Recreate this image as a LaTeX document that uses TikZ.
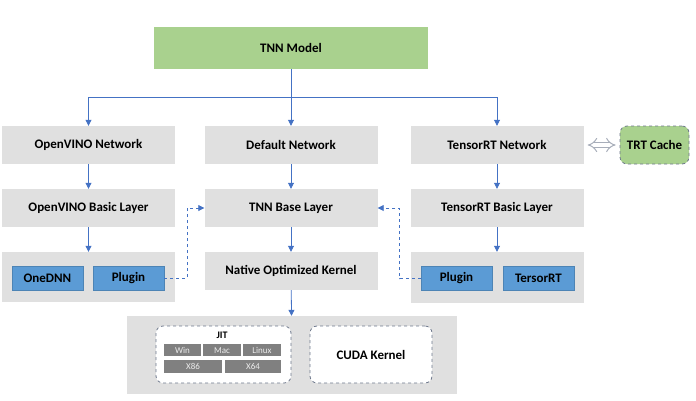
\documentclass[tikz,border=0pt]{standalone}
\usepackage{fontspec}
\setmainfont{Carlito}
\usetikzlibrary{positioning,arrows.meta}

\definecolor{boxgray}{RGB}{224,224,224}
\definecolor{modelgreen}{RGB}{169,209,142}
\definecolor{chipblue}{RGB}{91,155,213}
\definecolor{lineblue}{RGB}{68,114,196}
\definecolor{cellgray}{RGB}{128,128,128}
\definecolor{dashgray}{RGB}{110,120,140}

\begin{document}
\begin{tikzpicture}[x=1pt, y=1pt, font=\bfseries\fontsize{13}{15}\selectfont,
	block/.style = { rectangle, fill=boxgray, inner sep=0pt,
	minimum width=173pt, minimum height=38pt},
	chip/.style = { rectangle, fill=chipblue, draw=chipblue!85!black,
	inner sep=0pt, minimum width=71pt, minimum height=24pt},
	dashbox/.style = { rectangle, rounded corners=7pt, draw=dashgray,
	dashed, thick, fill=white, inner sep=0pt},
	cell/.style = { rectangle, fill=cellgray, text=white!85!gray, inner sep=0pt,
	text height=6.5pt, text depth=0.5pt,
	minimum height=12pt, font=\fontsize{9}{10}\selectfont},
	flow/.style = { draw=lineblue, thick, -{Triangle[length=6pt,width=6pt]}},
	dashflow/.style = { draw=lineblue, thick, dashed,
	-{Triangle[length=6pt,width=6pt]}} ]

  \useasboundingbox (0,0) rectangle (696,-400);

  % top level
  \node [name=model, block, fill=modelgreen, minimum width=274pt,
	minimum height=42pt] at (291,-48) { TNN Model };
  \coordinate (split) at (291,-97);

  % networks
  \node [name=ovnet, block] at (88.5,-145) { OpenVINO Network };
  \node [name=defnet, block] at (291,-145) { Default Network };
  \node [name=trtnet, block] at (497,-145) { TensorRT Network };
  \node [name=cache, dashbox, fill=modelgreen, minimum width=69pt,
	minimum height=38pt] at (654.5,-145) { TRT Cache };

  % layers
  \node [name=ovlayer, block] at (88.5,-208) { OpenVINO Basic Layer };
  \node [name=tnnbase, block] at (291,-208) { TNN Base Layer };
  \node [name=trtlayer, block] at (497,-208) { TensorRT Basic Layer };

  % implementations
  \node [name=ovimpl, block, minimum height=50pt] at (88.5,-277) {};
  \node [name=onednn, chip] at (47.5,-278) { OneDNN };
  \node [name=ovplug, chip] at (128.5,-278) { Plugin };
  \node [name=native, block] at (291,-271) { Native Optimized Kernel };
  \node [name=trtimpl, block, minimum height=51pt] at (497,-277.5) {};
  \node [name=trtplug, chip] at (456.5,-278.5) { Plugin };
  \node [name=trtrt, chip] at (538.5,-278.5) { TersorRT };

  % kernels
  \node [name=kernels, block, minimum width=330pt,
	minimum height=78pt] at (292,-355) {};
  \node [name=jit, dashbox, minimum width=135pt,
	minimum height=57pt] at (223.5,-354.5) {};
  \node [name=jitlabel, font=\bfseries\fontsize{10}{11}\selectfont]
	at (222,-335) { JIT };
  \node [name=win, cell, minimum width=37pt] at (182.5,-350) { Win };
  \node [name=mac, cell, minimum width=38pt] at (222,-350) { Mac };
  \node [name=linux, cell, minimum width=38pt] at (262,-350) { Linux };
  \node [name=xeightysix, cell, minimum width=58pt,
	minimum height=13pt] at (193,-366.5) { X86 };
  \node [name=xsixtyfour, cell, minimum width=56pt,
	minimum height=13pt] at (253,-366.5) { X64 };
  \node [name=cuda, dashbox, minimum width=122pt,
	minimum height=57pt] at (371,-354.5) { CUDA Kernel };

  % connectors
  \draw [flow] (model) -- (defnet);
  \draw [flow] (split) -| (ovnet);
  \draw [flow] (split) -| (trtnet);
  \draw [flow] (ovnet) -- (ovlayer);
  \draw [flow] (defnet) -- (tnnbase);
  \draw [flow] (trtnet) -- (trtlayer);
  \draw [flow] (ovlayer) -- (ovimpl);
  \draw [flow] (tnnbase) -- (native);
  \draw [flow] (trtlayer) -- (trtimpl);
  \draw [flow] (native) -- (kernels);
  \draw [dashflow] (ovplug.east) -- ++(23,0) |- (tnnbase.west);
  \draw [dashflow] (trtplug.west) -- ++(-21,0) |- (tnnbase.east);
  \draw [draw=dashgray!60, double, double distance=4pt, line width=1pt,
	{Implies[length=6pt]}-{Implies[length=6pt]}, shorten <=4pt, shorten >=4pt]
	(trtnet.east) -- (cache.west);
\end{tikzpicture}
\end{document}
